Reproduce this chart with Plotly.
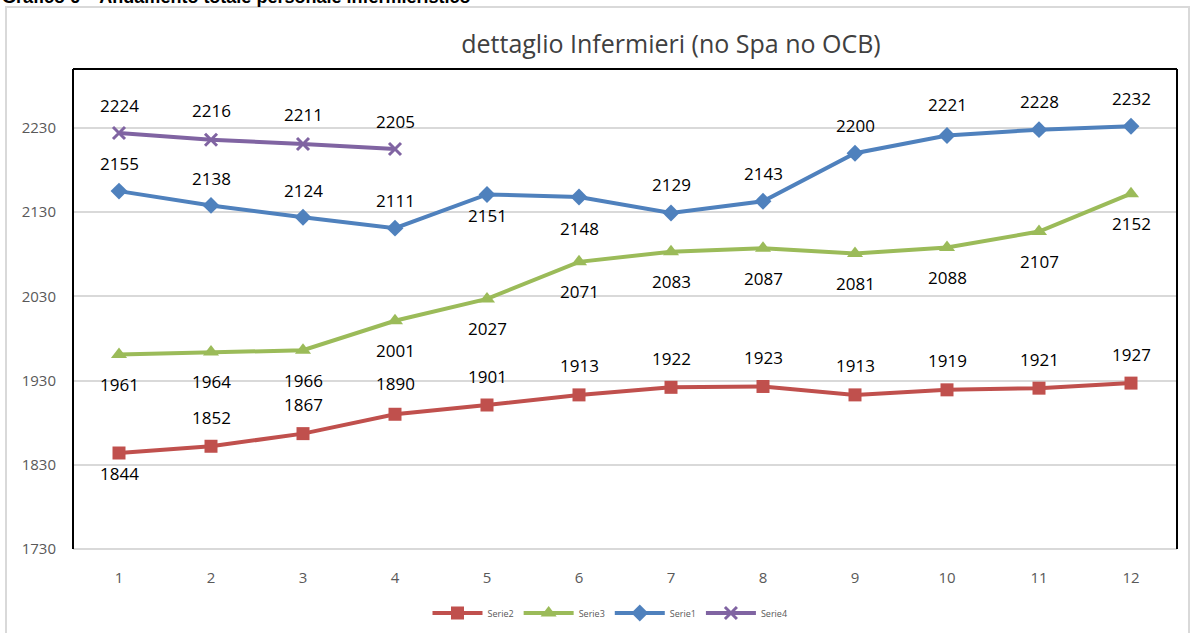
import plotly.graph_objects as go

months = [1, 2, 3, 4, 5, 6, 7, 8, 9, 10, 11, 12]
serie2 = [1844, 1852, 1867, 1890, 1901, 1913, 1922, 1923, 1913, 1919, 1921, 1927]
serie3 = [1961, 1964, 1966, 2001, 2027, 2071, 2083, 2087, 2081, 2088, 2107, 2152]
serie1 = [2155, 2138, 2124, 2111, 2151, 2148, 2129, 2143, 2200, 2221, 2228, 2232]
serie4 = [2224, 2216, 2211, 2205]
y_ticks = [1730, 1830, 1930, 2030, 2130, 2230]

# label shifts (pixels, + = above)
shift2 = [-20, 29, 29, 31, 29, 29, 29, 29, 29, 29, 29, 29]
shift3 = [-30] * 12
shift1 = [28, 27, 27, 28, -21, -31, 29, 28, 28, 31, 28, 28]
shift4 = [28, 29, 29, 28]

W, H = 1191, 633
L, R, T, B = 73, 14, 69, 84
pw, ph = W - L - R, H - T - B

def px(xp):
    return (xp - L) / pw

def py(yp):
    return (H - B - yp) / ph

FONT = "Open Sans, Calibri, sans-serif"

fig = go.Figure()
series = [
    ("Serie2", months, serie2, "#C0504D", "square", 13),
    ("Serie3", months, serie3, "#9BBB59", "triangle-up", 14),
    ("Serie1", months, serie1, "#4F81BD", "diamond", 13),
    ("Serie4", months[:len(serie4)], serie4, "#8064A2", "x-thin-open", 12),
]
for name, xs, ys, col, sym, sz in series:
    marker = dict(color=col, symbol=sym, size=sz)
    if sym == "x-thin-open":
        marker["line"] = dict(color=col, width=3)
    fig.add_trace(go.Scatter(x=xs, y=ys, name=name, mode="lines+markers",
                             line=dict(color=col, width=4), marker=marker))

font_lbl = dict(family=FONT, size=17, color="#000000")
for xs, ys, shifts in [(months, serie2, shift2), (months, serie3, shift3),
                       (months, serie1, shift1), (months[:len(serie4)], serie4, shift4)]:
    for x, y, s in zip(xs, ys, shifts):
        fig.add_annotation(x=x, y=y, text=str(y), showarrow=False, yshift=s,
                           font=font_lbl, xanchor="center", yanchor="middle")

# header (cut off at top)
fig.add_annotation(xref="paper", yref="paper", x=px(0), y=py(-3), xanchor="left",
                   yanchor="middle", showarrow=False,
                   text="<b>Grafico 6 – Andamento totale personale infermieristico</b>",
                   font=dict(family="Liberation Sans, Arial", size=18, color="#000000"))

shapes = [
    # outer gray frame
    dict(type="rect", xref="paper", yref="paper", x0=px(6), x1=px(1189), y0=py(640), y1=py(7),
         line=dict(color="#D9D9D9", width=2), layer="below"),
    # plot frame top/left/right black
    dict(type="line", xref="paper", yref="paper", x0=0, x1=1, y0=1, y1=1,
         line=dict(color="#000000", width=2)),
    dict(type="line", xref="paper", yref="paper", x0=0, x1=0, y0=0, y1=1,
         line=dict(color="#000000", width=2)),
    dict(type="line", xref="paper", yref="paper", x0=1, x1=1, y0=0, y1=1,
         line=dict(color="#000000", width=2)),
    dict(type="line", xref="paper", yref="paper", x0=0, x1=1, y0=0, y1=0,
         line=dict(color="#D9D9D9", width=2), layer="below"),
]

fig.update_layout(
    width=W, height=H,
    margin=dict(l=L, r=R, t=T, b=B, autoexpand=False),
    paper_bgcolor="white", plot_bgcolor="white",
    title=dict(text="dettaglio Infermieri (no Spa no OCB)", x=671 / W, xanchor="center",
               y=1 - 44 / H, yanchor="middle",
               font=dict(family=FONT, size=25, color="#404040")),
    xaxis=dict(range=[0.5, 12.5], tickvals=months, ticktext=[str(m) for m in months],
               showgrid=False, zeroline=False, showline=False, ticks="", ticklabelstandoff=18,
               tickfont=dict(family=FONT, size=15, color="#595959")),
    yaxis=dict(range=[1730, 2300], tickvals=y_ticks, ticktext=[str(v) for v in y_ticks],
               showgrid=True, gridcolor="#D9D9D9", gridwidth=2, zeroline=False,
               showline=False, ticks="", ticklabelstandoff=16,
               tickfont=dict(family=FONT, size=15, color="#595959")),
    legend=dict(orientation="h", x=px(610), xanchor="center", y=py(613), yanchor="middle",
                font=dict(family=FONT, size=9, color="#595959"),
                itemwidth=50, traceorder="normal"),
    shapes=shapes,
)

fig.write_html("out.html", config={"displayModeBar": False},
               post_script="document.body.style.margin='0px';")
